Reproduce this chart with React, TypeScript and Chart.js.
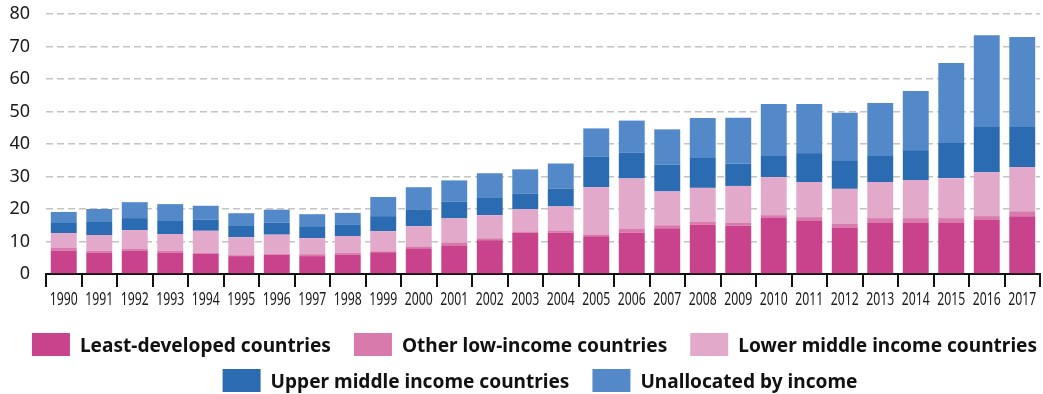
import React, { useEffect, useRef } from "react";
import { Chart, registerables } from "chart.js";

Chart.register(...registerables);

const years = [
  "1990", "1991", "1992", "1993", "1994", "1995", "1996", "1997", "1998", "1999",
  "2000", "2001", "2002", "2003", "2004", "2005", "2006", "2007", "2008", "2009",
  "2010", "2011", "2012", "2013", "2014", "2015", "2016", "2017",
];

const leastDeveloped = [7.1, 6.5, 7.1, 6.5, 6.2, 5.5, 5.9, 5.5, 5.9, 6.7, 7.9, 8.8, 10.4, 12.8, 12.8, 11.6, 12.8, 14.1, 15.1, 14.8, 17.2, 16.3, 14.2, 15.7, 15.7, 15.7, 16.6, 17.8];
const otherLowIncome = [0.9, 0.6, 0.6, 0.6, 0.3, 0.3, 0.3, 0.6, 0.6, 0.3, 0.6, 0.9, 0.6, 0.3, 0.6, 0.6, 1.2, 0.9, 0.9, 0.9, 0.9, 1.2, 1.2, 1.5, 1.5, 1.5, 1.2, 1.5];
const lowerMiddleIncome = [4.6, 4.9, 5.8, 5.2, 6.8, 5.5, 5.9, 4.9, 5.2, 6.2, 6.2, 7.4, 7.1, 6.8, 7.4, 14.5, 15.4, 10.4, 10.5, 11.4, 11.7, 10.8, 10.8, 11.1, 11.7, 12.3, 13.5, 13.6];
const upperMiddleIncome = [3.1, 4.0, 3.7, 4.0, 3.4, 3.7, 3.7, 3.7, 3.4, 4.6, 5.2, 5.2, 5.5, 4.9, 5.5, 9.5, 8.0, 8.3, 9.2, 6.8, 6.5, 8.9, 8.6, 8.0, 9.2, 10.8, 14.2, 12.3];
const unallocated = [3.4, 4.0, 4.9, 5.2, 4.3, 3.7, 4.0, 3.7, 3.7, 5.9, 6.8, 6.5, 7.4, 7.4, 7.7, 8.6, 9.8, 10.8, 12.3, 14.2, 16.0, 15.1, 14.8, 16.3, 18.2, 24.6, 28.0, 27.7];

const seriesLabels = [
  "Least-developed countries",
  "Other low-income countries",
  "Lower middle income countries",
  "Upper middle income countries",
  "Unallocated by income",
];
const seriesValues = [leastDeveloped, otherLowIncome, lowerMiddleIncome, upperMiddleIncome, unallocated];
const seriesColors = ["#c8438b", "#d87aab", "#e3a9cb", "#2b6bb2", "#5389c9"];
const legendRows = [[0, 1, 2], [3, 4]];

const yMin = 0;
const yMax = 80;
const yStep = 10;

const family = "'Noto Sans', 'Open Sans', sans-serif";

// Draws condensed x-axis labels and the legend (the reference uses a condensed face)
const condensedText = {
  id: "condensedText",
  afterDraw(chart: any) {
    const ctx: CanvasRenderingContext2D = chart.ctx;
    const xs = chart.scales.x;
    const area = chart.chartArea;
    ctx.save();
    // x tick labels
    ctx.fillStyle = "#1a1a1a";
    ctx.font = `18.5px ${family}`;
    ctx.textAlign = "center";
    ctx.textBaseline = "alphabetic";
    const sx = 28 / ctx.measureText("1990").width;
    (chart.data.labels as string[]).forEach((lab, i) => {
      const x = xs.getPixelForTick(i);
      ctx.save();
      ctx.translate(x, area.bottom + 31);
      ctx.scale(sx, 1);
      ctx.fillText(lab, 0, 0);
      ctx.restore();
    });
    // legend
    ctx.font = `bold 20px ${family}`;
    ctx.textAlign = "left";
    const ls = 251 / ctx.measureText(chart.data.datasets[0].label).width;
    const boxW = 38;
    const boxH = 23;
    const gapText = 10;
    const gapItem = 23;
    legendRows.forEach((row, r) => {
      const widths = row.map((i) => boxW + gapText + ctx.measureText(chart.data.datasets[i].label).width * ls);
      const total = widths.reduce((a, b) => a + b, 0) + gapItem * (row.length - 1);
      let x = (r === 0 ? 534.5 : 540) - total / 2;
      const boxTop = 333 + r * 36;
      row.forEach((i, k) => {
        const ds = chart.data.datasets[i];
        ctx.fillStyle = ds.backgroundColor;
        ctx.fillRect(x, boxTop, boxW, boxH);
        ctx.fillStyle = "#111";
        ctx.save();
        ctx.translate(x + boxW + gapText, boxTop + 19);
        ctx.scale(ls, 1);
        ctx.fillText(ds.label, 0, 0);
        ctx.restore();
        x += widths[k] + gapItem;
      });
    });
    ctx.restore();
  },
};

export default function App() {
  const ref = useRef<HTMLCanvasElement>(null);

  useEffect(() => {
    const chart = new Chart(ref.current!, {
      type: "bar",
      data: {
        labels: years,
        datasets: seriesLabels.map((label, i) => ({
          label,
          data: seriesValues[i],
          backgroundColor: seriesColors[i],
          borderWidth: 0,
          barPercentage: 0.73,
          categoryPercentage: 1,
        })),
      },
      plugins: [condensedText],
      options: {
        responsive: false,
        animation: false,
        layout: { padding: { top: 14, right: 3, left: 0, bottom: 107 } },
        plugins: { legend: { display: false }, tooltip: { enabled: false } },
        scales: {
          x: {
            stacked: true,
            offset: true,
            grid: {
              offset: true,
              drawOnChartArea: false,
              drawTicks: true,
              tickLength: 13,
              color: "#111",
              lineWidth: 2,
            },
            border: { display: true, color: "#111", width: 2 },
            ticks: { display: false, autoSkip: false, maxRotation: 0 },
          },
          y: {
            stacked: true,
            min: yMin,
            max: yMax,
            ticks: {
              stepSize: yStep,
              padding: 0,
              color: "#1a1a1a",
              font: { family, size: 18 },
            },
            grid: {
              color: (ctx: any) => (ctx.tick && ctx.tick.value === 0 ? "rgba(0,0,0,0)" : "#c4c4c4"),
              lineWidth: 1.5,
              drawTicks: true,
              tickLength: 16,
              tickColor: "rgba(0,0,0,0)",
            },
            border: { display: false, dash: [7, 4] },
            afterFit: (s: any) => {
              s.width = 46;
            },
          },
        },
      },
    });
    return () => chart.destroy();
  }, []);

  return (
    <div style={{ position: "absolute", left: 0, top: 0, width: 1043, height: 394, background: "#fff" }}>
      <canvas ref={ref} width={1043} height={394} style={{ display: "block" }} />
    </div>
  );
}
